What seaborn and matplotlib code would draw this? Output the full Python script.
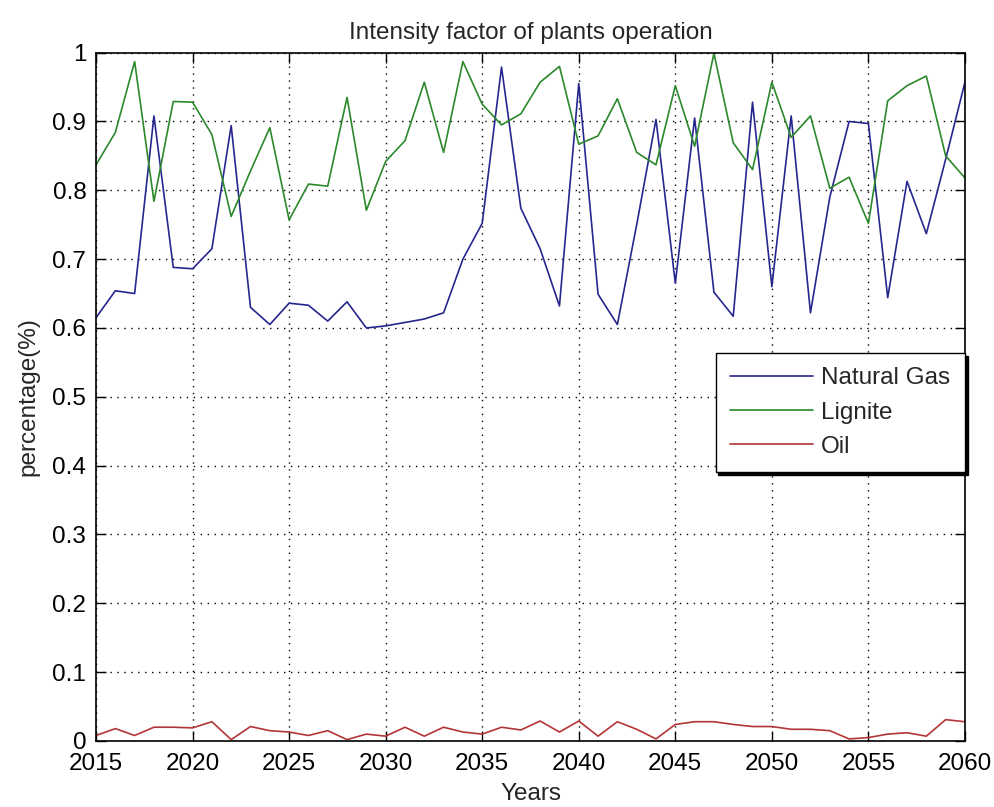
import numpy as np
import pandas as pd
import matplotlib
matplotlib.use("Agg")
import matplotlib.pyplot as plt
import seaborn as sns

years = list(range(2015, 2061))
natural_gas = [0.615, 0.654, 0.650, 0.908, 0.688, 0.686, 0.715, 0.894, 0.630, 0.605,
               0.636, 0.633, 0.610, 0.638, 0.600, 0.603, 0.608, 0.613, 0.622, 0.700,
               0.752, 0.979, 0.774, 0.715, 0.632, 0.955, 0.649, 0.605, 0.750, 0.903,
               0.665, 0.905, 0.652, 0.617, 0.928, 0.660, 0.908, 0.622, 0.790, 0.900,
               0.897, 0.644, 0.813, 0.737, 0.845, 0.957]
lignite = [0.837, 0.884, 0.987, 0.784, 0.929, 0.928, 0.881, 0.762, 0.828, 0.891,
           0.757, 0.809, 0.806, 0.935, 0.771, 0.842, 0.872, 0.957, 0.855, 0.987,
           0.925, 0.895, 0.911, 0.957, 0.980, 0.867, 0.879, 0.933, 0.855, 0.837,
           0.952, 0.864, 0.999, 0.869, 0.830, 0.957, 0.877, 0.908, 0.803, 0.819,
           0.752, 0.930, 0.952, 0.966, 0.850, 0.818]
oil = [0.008, 0.018, 0.008, 0.020, 0.020, 0.019, 0.028, 0.002, 0.021, 0.015,
       0.013, 0.008, 0.015, 0.002, 0.010, 0.007, 0.020, 0.007, 0.020, 0.013,
       0.010, 0.020, 0.016, 0.029, 0.013, 0.029, 0.007, 0.028, 0.017, 0.003,
       0.024, 0.028, 0.028, 0.024, 0.021, 0.021, 0.017, 0.017, 0.015, 0.003,
       0.005, 0.010, 0.012, 0.007, 0.031, 0.028]
series_names = ["Natural Gas", "Lignite", "Oil"]
x_ticks = [2015, 2020, 2025, 2030, 2035, 2040, 2045, 2050, 2055, 2060]
y_ticks = [0, 0.1, 0.2, 0.3, 0.4, 0.5, 0.6, 0.7, 0.8, 0.9, 1.0]
y_tick_labels = ["0", "0.1", "0.2", "0.3", "0.4", "0.5", "0.6", "0.7", "0.8", "0.9", "1"]

df = pd.DataFrame({
    "Years": years * 3,
    "value": natural_gas + lignite + oil,
    "series": [series_names[0]] * len(years) + [series_names[1]] * len(years) + [series_names[2]] * len(years),
})

sns.set_style("white")
plt.rcParams["font.family"] = ["Liberation Sans", "DejaVu Sans"]
FS = 17.5

fig = plt.figure(figsize=(9.95, 8.07), dpi=100)
ax = fig.add_axes([0.0965, 0.0818, 0.8733, 0.8530])

palette = {"Natural Gas": "#26268f", "Lignite": "#2b892b", "Oil": "#b33535"}
sns.lineplot(data=df, x="Years", y="value", hue="series", palette=palette,
             linewidth=1.2, ax=ax, legend=True)

ax.set_xlim(2015, 2060)
ax.set_ylim(0, 1)
ax.set_xticks(x_ticks)
ax.set_xticklabels([str(t) for t in x_ticks], fontsize=FS)
ax.set_yticks(y_ticks)
ax.set_yticklabels(y_tick_labels, fontsize=FS)
ax.tick_params(direction="in", length=7, width=1, top=True, right=True,
               bottom=True, left=True, colors="black")
ax.tick_params(axis="x", pad=8.5)
ax.tick_params(axis="y", pad=7)
ax.grid(True, color="black", linestyle=(0, (1, 4)), linewidth=1.0)
for sp in ax.spines.values():
    sp.set_color("black")
    sp.set_linewidth(1.2)

ax.set_title("Intensity factor of plants operation", fontsize=FS, pad=10)
ax.set_xlabel("Years", fontsize=FS, labelpad=6)
ax.set_ylabel("percentage(%)", fontsize=FS, labelpad=9)

leg = ax.legend(loc="upper right", bbox_to_anchor=(1.0, 0.564), borderaxespad=0,
                fontsize=FS, frameon=True, fancybox=False, edgecolor="black",
                framealpha=1, labelspacing=0.5, handlelength=3.4, handletextpad=0.35,
                borderpad=0.6,
                shadow={"facecolor": "black", "edgecolor": "black", "alpha": 1})
leg.get_frame().set_linewidth(1.0)
for line in leg.get_lines():
    line.set_linewidth(1.2)

fig.savefig("out.png", dpi=100, facecolor="white")
